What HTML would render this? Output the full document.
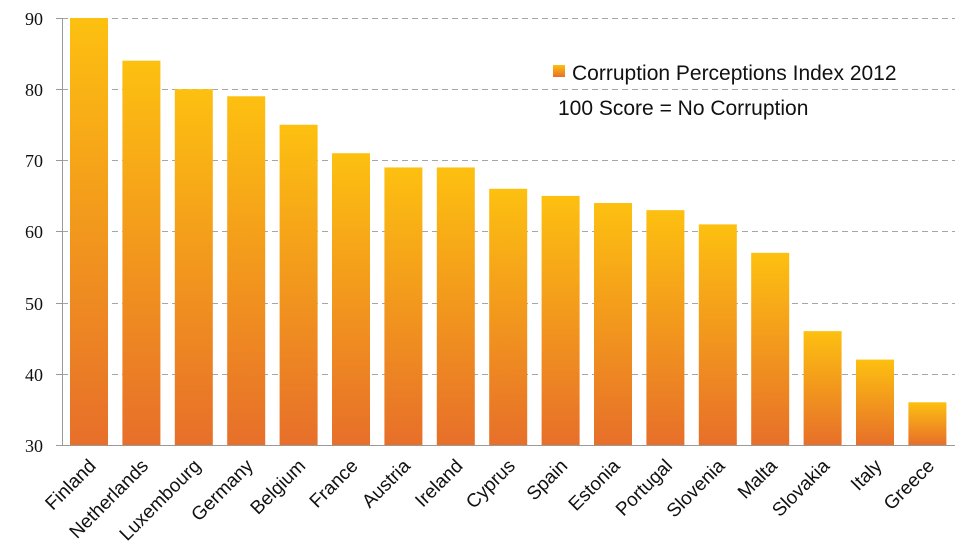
<!DOCTYPE html>
<html><head><meta charset="utf-8"><style>
html,body{margin:0;padding:0;background:#fff;}
svg{display:block;}
</style></head><body>
<svg width="968" height="554" viewBox="0 0 968 554" xmlns="http://www.w3.org/2000/svg">
<defs>
<linearGradient id="g" x1="0" y1="0" x2="0" y2="1">
<stop offset="0" stop-color="#FDC010"/>
<stop offset="1" stop-color="#E76F2A"/>
</linearGradient>
</defs>
<g stroke="#a6a6a6" stroke-width="1" stroke-dasharray="6,4">
<line x1="62" y1="18.5" x2="955" y2="18.5"/>
<line x1="62" y1="89.5" x2="955" y2="89.5"/>
<line x1="62" y1="160.5" x2="955" y2="160.5"/>
<line x1="62" y1="231.5" x2="955" y2="231.5"/>
<line x1="62" y1="303.5" x2="955" y2="303.5"/>
<line x1="62" y1="374.5" x2="955" y2="374.5"/>
</g>
<g id="bars"></g>
<g stroke="#999" stroke-width="1">
<line x1="62.5" y1="18" x2="62.5" y2="445"/>
<line x1="56" y1="445.5" x2="955" y2="445.5"/>
<line x1="56" y1="18.5" x2="62" y2="18.5"/>
<line x1="56" y1="89.5" x2="62" y2="89.5"/>
<line x1="56" y1="160.5" x2="62" y2="160.5"/>
<line x1="56" y1="231.5" x2="62" y2="231.5"/>
<line x1="56" y1="303.5" x2="62" y2="303.5"/>
<line x1="56" y1="374.5" x2="62" y2="374.5"/>
</g>
<g font-family="Liberation Serif, serif" font-size="18" fill="#111" text-anchor="end">
<text x="43" y="25">90</text><text x="43" y="96">80</text><text x="43" y="167">70</text>
<text x="43" y="238">60</text><text x="43" y="310">50</text><text x="43" y="381">40</text>
<text x="43" y="452">30</text>
</g>
<g id="labels" font-family="Liberation Sans, sans-serif" font-size="19" fill="#111" text-anchor="end"></g>
<rect x="553" y="65" width="12" height="12" fill="url(#g)"/>
<g font-family="Liberation Sans, sans-serif" font-size="21" fill="#111">
<text x="572" y="80">Corruption Perceptions Index 2012</text>
<text x="558" y="115">100 Score = No Corruption</text>
</g>
<script>
var names=["Finland","Netherlands","Luxembourg","Germany","Belgium","France","Austria","Ireland","Cyprus","Spain","Estonia","Portugal","Slovenia","Malta","Slovakia","Italy","Greece"];
var vals=[90,84,80,79,75,71,69,69,66,65,64,63,61,57,46,42,36];
var ns="http://www.w3.org/2000/svg",b=document.getElementById("bars"),l=document.getElementById("labels");
for(var i=0;i<17;i++){var x=70+i*52.4,y=445-(vals[i]-30)*7.117;
var r=document.createElementNS(ns,"rect");r.setAttribute("x",x);r.setAttribute("y",y);r.setAttribute("width",38);r.setAttribute("height",445-y);r.setAttribute("fill","url(#g)");b.appendChild(r);
var t=document.createElementNS(ns,"text");var cx=x+27,cy=467;t.setAttribute("x",cx);t.setAttribute("y",cy);t.setAttribute("transform","rotate(-45 "+cx+" "+cy+")");t.textContent=names[i];l.appendChild(t);}
</script>
</svg>
</body></html>
